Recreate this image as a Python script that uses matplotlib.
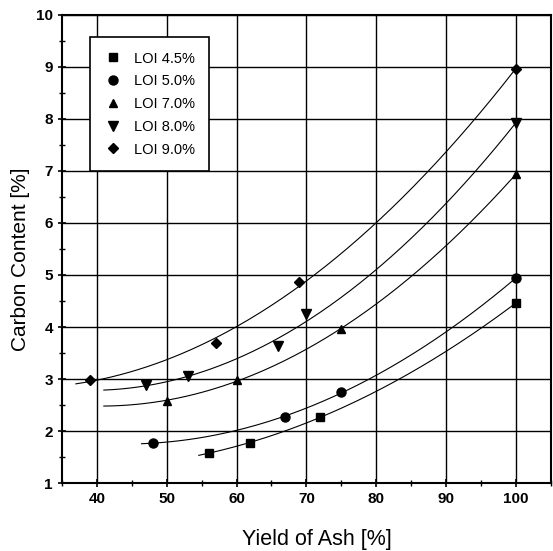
import numpy as np
import matplotlib.pyplot as plt
from matplotlib.ticker import MultipleLocator

plt.rcParams['font.family'] = ['Liberation Sans', 'DejaVu Sans']

# Data: yield of ash [%] vs carbon content [%]
labels = ['LOI 4.5%', 'LOI 5.0%', 'LOI 7.0%', 'LOI 8.0%', 'LOI 9.0%']
markers = ['s', 'o', '^', 'v', 'D']
msizes = [6, 6.5, 6, 7, 5]

x45 = [56, 62, 72, 100]
y45 = [1.58, 1.77, 2.27, 4.46]
x50 = [48, 67, 75, 100]
y50 = [1.77, 2.27, 2.75, 4.94]
x70 = [50, 60, 75, 100]
y70 = [2.58, 2.98, 3.96, 6.94]
x80 = [47, 53, 66, 70, 100]
y80 = [2.88, 3.06, 3.63, 4.25, 7.92]
x90 = [39, 57, 69, 100]
y90 = [2.98, 3.69, 4.87, 8.96]

# start of each fitted curve
curve_start = [54.6, 46.4, 41, 41, 37]

xticks = [40, 50, 60, 70, 80, 90, 100]
yticks = [1, 2, 3, 4, 5, 6, 7, 8, 9, 10]

series = [(x45, y45), (x50, y50), (x70, y70), (x80, y80), (x90, y90)]

fig = plt.figure(figsize=(5.53, 5.51), dpi=100)
ax = fig.add_axes([0.112, 0.1234, 0.884, 0.8494])

for (xs, ys), lab, m, ms, x0 in zip(series, labels, markers, msizes, curve_start):
    coef = np.polyfit(xs, ys, 2)
    xf = np.linspace(x0, 100, 200)
    ax.plot(xf, np.polyval(coef, xf), color='black', lw=0.8, zorder=2)
    ax.plot(xs, ys, linestyle='none', marker=m, color='black', ms=ms,
            label=lab, zorder=3)

ax.set_xlim(35, 105)
ax.set_ylim(1, 10)
ax.set_xticks(xticks, [str(v) for v in xticks], fontweight='bold', fontsize=11)
ax.set_yticks(yticks, [str(v) for v in yticks], fontweight='bold', fontsize=11)
ax.xaxis.set_minor_locator(MultipleLocator(5))
ax.yaxis.set_minor_locator(MultipleLocator(0.5))
ax.grid(True, which='major', color='black', lw=1.0)
for s in ax.spines.values():
    s.set_linewidth(1.5)
ax.tick_params(which='major', direction='inout', length=6, width=1.2)
ax.tick_params(which='minor', direction='inout', length=4, width=1)

ax.set_xlabel('Yield of Ash [%]', fontsize=15.5)
ax.set_ylabel('Carbon Content [%]', fontsize=15)
ax.xaxis.set_label_coords(0.521, -0.098)
ax.yaxis.set_label_coords(-0.065, 0.479)

leg = ax.legend(loc='upper left', bbox_to_anchor=(0.057, 0.953),
                borderaxespad=0, fontsize=10.5, fancybox=False,
                edgecolor='black', framealpha=1, labelspacing=0.6,
                handlelength=1.2, handletextpad=0.8, borderpad=1.0)
leg.get_frame().set_linewidth(1.2)

plt.savefig('out.png', dpi=100)
